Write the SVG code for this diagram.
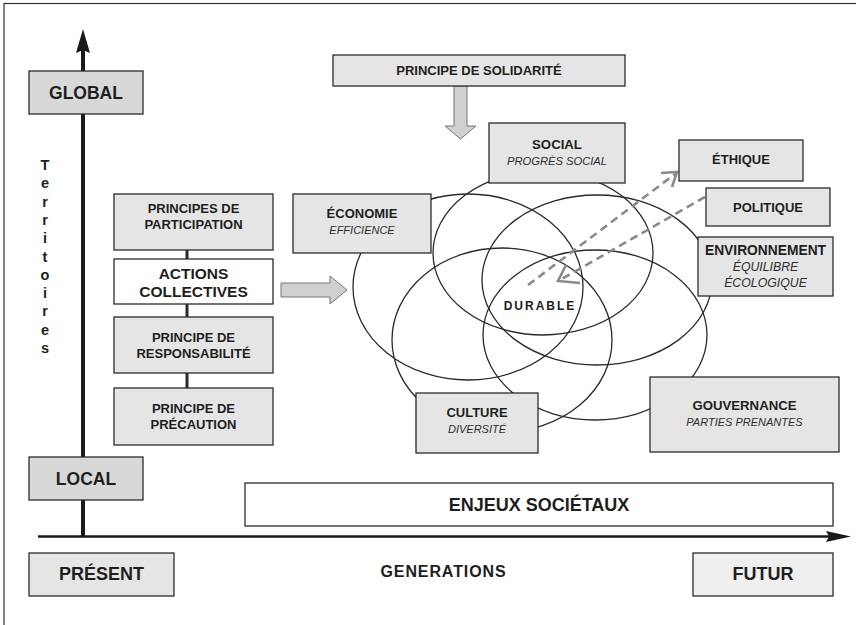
<svg xmlns="http://www.w3.org/2000/svg" width="856" height="625" viewBox="0 0 856 625">
  <style>
    .box { fill: #e5e5e5; stroke: #2b2b2b; stroke-width: 1.3; }
    .dark { fill: #d8d8d8; }
    .light { fill: #efefef; }
    .white { fill: #ffffff; }
    .t { font-family: "Liberation Sans", Arial, sans-serif; font-weight: bold; fill: #1e1e1e; text-anchor: middle; }
    .s { font-family: "Liberation Sans", Arial, sans-serif; font-style: italic; fill: #2e2e2e; text-anchor: middle; }
    .ell { fill: none; stroke: #2a2a2a; stroke-width: 1.3; }
    .dash { fill: none; stroke: #8a8a8a; stroke-width: 2.6; stroke-dasharray: 8 5; }
    .head { fill: none; stroke: #8a8a8a; stroke-width: 2.6; stroke-linejoin: miter; }
    .hollow { fill: #d0d0d0; stroke: #777777; stroke-width: 1; }
    .link { stroke: #2b2b2b; stroke-width: 3; }
  </style>

  <!-- frame -->
  <rect x="4" y="3.5" width="870" height="640" fill="#ffffff" stroke="#333333" stroke-width="1.2"/>

  <!-- axes -->
  <g id="axes">
    <line x1="83" y1="50" x2="83" y2="537" stroke="#1a1a1a" stroke-width="4"/>
    <polygon points="83,29 90,53 83,50 76,53" fill="#1a1a1a"/>
    <line x1="38" y1="536.5" x2="830" y2="536.5" stroke="#1a1a1a" stroke-width="2.6"/>
    <polygon points="851,536.5 826,531 829,536.5 826,542" fill="#1a1a1a"/>
  </g>

  <!-- overlapping spheres of sustainability -->
  <g id="spheres">
    <ellipse class="ell" cx="468" cy="287" rx="115" ry="93"/>
    <ellipse class="ell" cx="543" cy="253" rx="110" ry="82"/>
    <ellipse class="ell" cx="597" cy="280" rx="115" ry="85"/>
    <ellipse class="ell" cx="595" cy="335" rx="112" ry="85"/>
    <ellipse class="ell" cx="502" cy="340" rx="110" ry="92"/>
  </g>

  <!-- connectors -->
  <g id="connectors">
    <line class="link" x1="187" y1="250" x2="187" y2="259"/>
    <line class="link" x1="187" y1="304" x2="187" y2="317"/>
    <line class="link" x1="187" y1="373" x2="187" y2="388"/>
    <!-- broad arrows -->
    <polygon class="hollow" points="454,86 467,86 467,126 476,126 460.5,139 445,126 454,126"/>
    <polygon class="hollow" points="281,283 330,283 330,276 347,290 330,304 330,297 281,297"/>
    <!-- dashed arrows -->
    <line class="dash" x1="528" y1="285" x2="675" y2="174"/>
    <polyline class="head" points="661,173 677,172 672,187"/>
    <line class="dash" x1="705" y1="197" x2="560" y2="280"/>
    <polyline class="head" points="566,265 558,281 580,283"/>
  </g>

  <!-- territorial scale -->
  <g id="global">
    <rect class="box dark" x="29" y="71" width="114" height="43"/>
    <text class="t" x="86" y="99" font-size="17.5">GLOBAL</text>
  </g>
  <g id="local">
    <rect class="box dark" x="29" y="457" width="114" height="43"/>
    <text class="t" x="86" y="484.5" font-size="17.5">LOCAL</text>
  </g>
  <g id="territoires" class="t" font-size="14.5">
    <text x="45" y="170">T</text>
    <text x="45" y="188.3">e</text>
    <text x="45" y="206.6">r</text>
    <text x="45" y="224.9">r</text>
    <text x="45" y="243.2">i</text>
    <text x="45" y="261.5">t</text>
    <text x="45" y="279.8">o</text>
    <text x="45" y="298.1">i</text>
    <text x="45" y="316.4">r</text>
    <text x="45" y="334.7">e</text>
    <text x="45" y="353">s</text>
  </g>

  <!-- time scale -->
  <g id="present">
    <rect class="box" x="29" y="553" width="145" height="43"/>
    <text class="t" x="101.5" y="580" font-size="18">PRÉSENT</text>
  </g>
  <g id="futur">
    <rect class="box light" x="693" y="553" width="140" height="43"/>
    <text class="t" x="763" y="580" font-size="18">FUTUR</text>
  </g>
  <g id="generations">
    <text class="t" x="443.5" y="577" font-size="16" fill="#2a2a2a" letter-spacing="0.9">GENERATIONS</text>
  </g>
  <g id="enjeux">
    <rect class="box white" x="245" y="483" width="588" height="43"/>
    <text class="t" x="539" y="510.5" font-size="18">ENJEUX SOCIÉTAUX</text>
  </g>

  <!-- principles and collective action -->
  <g id="participation">
    <rect class="box" x="114" y="194" width="159" height="56"/>
    <text class="t" x="193.5" y="213" font-size="13">PRINCIPES DE</text>
    <text class="t" x="193.5" y="228.5" font-size="13">PARTICIPATION</text>
  </g>
  <g id="actions">
    <rect class="box white" x="114" y="259" width="159" height="45"/>
    <text class="t" x="193.5" y="279" font-size="15.5">ACTIONS</text>
    <text class="t" x="193.5" y="296.5" font-size="15.5">COLLECTIVES</text>
  </g>
  <g id="responsabilite">
    <rect class="box" x="114" y="317" width="159" height="56"/>
    <text class="t" x="193.5" y="341.5" font-size="13">PRINCIPE DE</text>
    <text class="t" x="193.5" y="357.5" font-size="13">RESPONSABILITÉ</text>
  </g>
  <g id="precaution">
    <rect class="box" x="114" y="388" width="159" height="57"/>
    <text class="t" x="193.5" y="412.5" font-size="13">PRINCIPE DE</text>
    <text class="t" x="193.5" y="428.5" font-size="13">PRÉCAUTION</text>
  </g>
  <g id="solidarite">
    <rect class="box" x="333" y="55" width="292" height="31"/>
    <text class="t" x="479" y="75" font-size="13">PRINCIPE DE SOLIDARITÉ</text>
  </g>

  <!-- dimensions -->
  <g id="social">
    <rect class="box" x="489" y="123" width="136" height="60"/>
    <text class="t" x="557" y="149" font-size="13.2">SOCIAL</text>
    <text class="s" x="557" y="165" font-size="11.2">PROGRÈS SOCIAL</text>
  </g>
  <g id="economie">
    <rect class="box" x="293" y="194" width="138" height="59"/>
    <text class="t" x="362" y="218" font-size="13">ÉCONOMIE</text>
    <text class="s" x="362" y="234" font-size="11">EFFICIENCE</text>
  </g>
  <g id="ethique">
    <rect class="box" x="679" y="140" width="124" height="41"/>
    <text class="t" x="741" y="164" font-size="13">ÉTHIQUE</text>
  </g>
  <g id="politique">
    <rect class="box" x="706" y="188" width="124" height="38"/>
    <text class="t" x="768" y="211.5" font-size="13">POLITIQUE</text>
  </g>
  <g id="environnement">
    <rect class="box" x="698" y="237" width="135" height="59"/>
    <text class="t" x="765.5" y="255" font-size="13.8">ENVIRONNEMENT</text>
    <text class="s" x="765.5" y="271" font-size="12.3">ÉQUILIBRE</text>
    <text class="s" x="765.5" y="287" font-size="12.3">ÉCOLOGIQUE</text>
  </g>
  <g id="gouvernance">
    <rect class="box" x="650" y="377" width="189" height="75"/>
    <text class="t" x="744.5" y="410" font-size="13.2">GOUVERNANCE</text>
    <text class="s" x="744.5" y="425.5" font-size="11">PARTIES PRENANTES</text>
  </g>
  <g id="culture">
    <rect class="box" x="416" y="393" width="122" height="60"/>
    <text class="t" x="477" y="417" font-size="13">CULTURE</text>
    <text class="s" x="477" y="433" font-size="11">DIVERSITÉ</text>
  </g>
  <g id="durable">
    <text class="t" x="540" y="310" font-size="12" letter-spacing="2" fill="#2a2a2a">DURABLE</text>
  </g>
</svg>
